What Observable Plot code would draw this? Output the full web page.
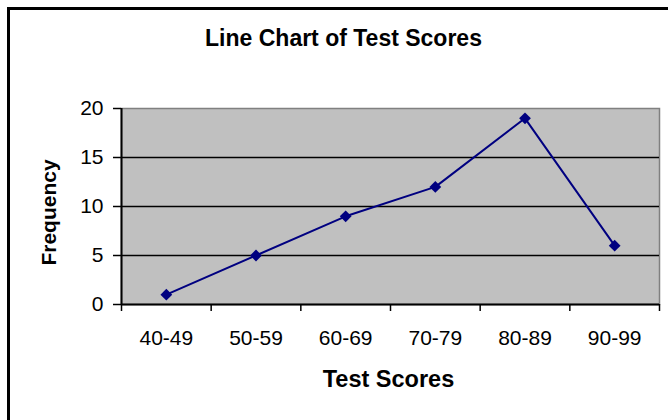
<!DOCTYPE html>
<html><head><meta charset="utf-8">
<script src="https://cdn.jsdelivr.net/npm/d3@7"></script>
<script src="https://cdn.jsdelivr.net/npm/@observablehq/plot@0.6"></script>
<style>
body{margin:0;background:#fff;}
#wrap{position:relative;width:668px;height:420px;overflow:hidden;font-family:Arial,"Liberation Sans",sans-serif;}
#border{position:absolute;left:7px;top:7px;width:720px;height:500px;border:3px solid #000;box-sizing:border-box;pointer-events:none}
#wrap svg{position:absolute;left:0;top:0}
</style></head><body><div id="wrap"><div id="border"></div></div>
<script>
const categories = ["40-49","50-59","60-69","70-79","80-89","90-99"];
const frequencies = [1,5,9,12,19,6];
const yTicks = [0,5,10,15,20];
const yDomain = [0,20];
const gridValues = [5,10,15];
const chartTitle = "Line Chart of Test Scores";
const xTitle = "Test Scores";
const yTitle = "Frequency";

const data = categories.map((c,i)=>({cat:c, xc:i+0.5, f:frequencies[i]}));
const boundaries = d3.range(categories.length+1);
const font = "Arial, 'Liberation Sans', sans-serif";

const chart = Plot.plot({
  width:668, height:420,
  marginLeft:121, marginRight:9, marginTop:108, marginBottom:116,
  style:{fontFamily:font, color:"#000", background:"transparent", overflow:"visible"},
  x:{type:"linear", domain:[0,categories.length], axis:null},
  y:{domain:yDomain, axis:null},
  marks:[
    Plot.frame({fill:"#C0C0C0", stroke:"#808080", strokeWidth:1.5}),
    Plot.ruleY(gridValues,{stroke:"#000", strokeWidth:1.7}),
    Plot.ruleY([0],{stroke:"#000", strokeWidth:2}),
    Plot.ruleX([0],{stroke:"#000", strokeWidth:2}),
    Plot.axisY({ticks:yTicks, tickSize:8, tickPadding:10, fontSize:21, strokeWidth:1.5, label:null, tickFormat:d=>String(d)}),
    Plot.axisX({ticks:boundaries, tickSize:7, tickFormat:()=>"", strokeWidth:1.5, label:null}),
    Plot.text(data,{x:"xc", text:"cat", frameAnchor:"bottom", dy:34, fontSize:21, lineAnchor:"middle", fill:"#000"}),
    Plot.line(data,{x:"xc", y:"f", stroke:"#000080", strokeWidth:2}),
    Plot.dot(data,{x:"xc", y:"f", symbol:"diamond2", fill:"#000080", stroke:"none", r:5.3}),
    Plot.text([chartTitle],{text:d=>d, frameAnchor:"top", dx:-47, dy:-70, fontSize:23, fontWeight:"bold", lineAnchor:"middle", fill:"#000"}),
    Plot.text([xTitle],{text:d=>d, frameAnchor:"bottom", dx:-2, dy:75, fontSize:23.5, fontWeight:"bold", lineAnchor:"middle", fill:"#000"}),
    Plot.text([yTitle],{text:d=>d, y:()=>(yDomain[0]+yDomain[1])/2, frameAnchor:"left", textAnchor:"middle", dx:-72, dy:6, rotate:-90, fontSize:21, fontWeight:"bold", lineAnchor:"middle", fill:"#000"})
  ]
});
document.getElementById("wrap").appendChild(chart);
</script>
</body></html>
